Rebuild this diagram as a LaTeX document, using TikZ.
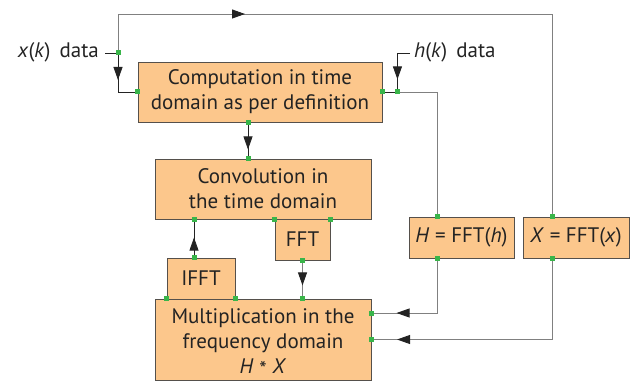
\documentclass[tikz,border=0pt]{standalone}
\usepackage{fontspec}
\setmainfont{PT Sans}
\usetikzlibrary{arrows.meta,decorations.markings,calc}
\definecolor{boxfill}{RGB}{252,199,140}
\definecolor{boxline}{RGB}{85,80,75}
\definecolor{dotgreen}{RGB}{57,181,74}
\definecolor{linegray}{RGB}{128,128,128}
\definecolor{linedark}{RGB}{35,35,35}
\begin{document}
\begin{tikzpicture}[x=1pt,y=-1pt,
  blk/.style={draw=boxline, fill=boxfill, line width=0.9pt, inner sep=0pt, align=center,
    font=\fontsize{21}{25}\selectfont, text=linedark},
  lbl/.style={font=\fontsize{21}{25}\selectfont, text=linedark, inner sep=0pt, align=center},
  conn/.style={draw=linedark, line width=0.8pt},
  gconn/.style={draw=linegray, line width=0.9pt},
  arr/.style={postaction={decorate}, decoration={markings,
    mark=at position #1 with {\arrow[linedark]{Triangle[length=13pt,width=9pt]}}}},
  gdot/.style={fill=dotgreen, draw=none, minimum size=5pt, inner sep=0pt}
]
\useasboundingbox (0,0) rectangle (634,382);

% blocks
\node[blk, minimum width=244pt, minimum height=60pt] (comp) at (260,92) {Computation in time\\domain as per definition};
\node[blk, minimum width=216pt, minimum height=60pt] (conv) at (263,189) {Convolution in\\the time domain};
\node[blk, minimum width=216pt, minimum height=81pt] (mult) at (263,339.5) {};
\node[lbl] (multtxt) at ([yshift=-3pt]mult.center) {Multiplication in the\\frequency domain\\\textit{H} \raisebox{-3.5pt}{*} \textit{X}};
\node[blk, minimum width=55pt, minimum height=41pt] (fft) at (302.5,239.5) {FFT};
\node[blk, minimum width=68pt, minimum height=41pt] (ifft) at (201,278.5) {IFFT};
\node[blk, minimum width=105pt, minimum height=41pt] (H) at (461.5,237.5) {\textit{H} = FFT(\textit{h})};
\node[blk, minimum width=106pt, minimum height=41pt] (X) at (576,237.5) {\textit{X} = FFT(\textit{x})};

% labels
\node[lbl, anchor=east] (xlab) at (99,52) {\textit{x}(\textit{k})\, data};
\node[lbl, anchor=west] (hlab) at (414,52) {\textit{h}(\textit{k})\, data};

% junction coordinates
\coordinate (xin) at (118,53);
\coordinate (xs) at (105,53);
\coordinate (tl) at (118,14);
\coordinate (tr) at (552,14);
\coordinate (hin) at (410,53);
\coordinate (hj) at ([xshift=15pt]comp.east);
\coordinate (htop) at ([xshift=-24.5pt]H.north);
\coordinate (hbot) at ([xshift=-24.5pt]H.south);
\coordinate (xtop) at ([xshift=-24pt]X.north);
\coordinate (xbot) at ([xshift=-24pt]X.south);
\coordinate (cs) at ([xshift=-12pt]comp.south);
\coordinate (ia) at ([xshift=-7pt]ifft.north);
\coordinate (m1) at ([yshift=26.5pt]mult.east);
\coordinate (m2) at (mult.east);

% connectors
\draw[conn] (xs) -- (xin);
\draw[conn, arr=27pt] (xin) |- (comp.west);
\draw[gconn, arr=166pt] (xin) -- (tl) -- (tr) -- (xtop);
\draw[conn, arr=39pt] (hin) -| (hj);
\draw[conn] (comp.east) -- (hj);
\draw[gconn] (hj) -| (htop);
\draw[conn, arr=27pt] (cs) -- (cs |- conv.north);
\draw[conn, arr=20pt] (ia) -- (ia |- conv.south);
\draw[gconn, arr=25pt] (fft.south) -- (fft.south |- mult.north);
\draw[gconn, arr=95pt] (hbot) |- (m1);
\draw[gconn, arr=236pt] (xbot) |- (m2);

% green dots
\foreach \p in {xin, comp.west, comp.east, hj, cs, htop, hbot, xtop, xbot, ia, fft.south, m1, m2}
  \node[gdot] at (\p) {};
\node[gdot] at (cs |- conv.north) {};
\node[gdot] at (ia |- conv.south) {};
\node[gdot] at (conv.south -| fft.west) {};
\node[gdot] at (conv.south -| fft.east) {};
\node[gdot] at (fft.south |- mult.north) {};
\node[gdot] at (mult.north -| ifft.west) {};
\node[gdot] at (mult.north -| ifft.east) {};
\end{tikzpicture}
\end{document}
